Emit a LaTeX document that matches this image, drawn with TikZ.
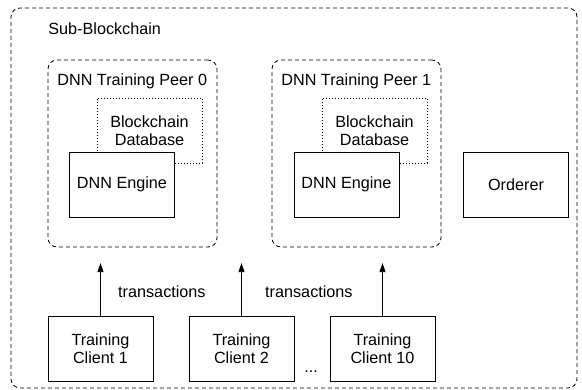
\documentclass[tikz,border=0pt]{standalone}
\usepackage{fontspec}
\setmainfont{Liberation Sans}
\usetikzlibrary{arrows.meta,positioning}

\begin{document}
\begin{tikzpicture}[x=1pt,y=-1pt,node distance=141pt,on grid,line width=0.8pt,
    font=\fontsize{16.2}{18}\selectfont,
    group/.style={draw,dash pattern=on 4pt off 3pt,rounded corners=9pt,inner sep=0pt},
    ledger/.style={draw,dash pattern=on 1pt off 2pt,align=center,minimum width=105pt,minimum height=65pt,inner sep=0pt},
    block/.style={draw,fill=white,align=center,minimum width=105pt,minimum height=65pt,inner sep=0pt},
    title/.style={anchor=base west,inner sep=0pt}]
    \useasboundingbox (0,0) rectangle (582,390);

    \node[group,minimum width=566pt,minimum height=380pt] (chain) at (294,198) {};
    \node[title] (chain_t) at (48,35) {Sub-Blockchain};

    \node[group,minimum width=169pt,minimum height=187pt] (peer_0) at (132.5,153.5) {};
    \node[group,minimum width=169pt,minimum height=187pt] [right=224pt of peer_0] (peer_1) {};
    \node[title] (peer_0_t) at (57,86) {DNN Training Peer 0};
    \node[title] (peer_1_t) at (281,86) {DNN Training Peer 1};

    \node[ledger] (db_0) at (149.5,130.5) {Blockchain\\Database};
    \node[ledger] [right=225pt of db_0] (db_1) {Blockchain\\Database};
    \node[block] (dnn_0) at (122,184.5) {DNN Engine};
    \node[block] [right=224.5pt of dnn_0] (dnn_1) {DNN Engine};
    \node[block] [right=169.5pt of dnn_1] (orderer) {Orderer};

    \node[block] (client_1) at (100.5,349) {Training\\Client 1};
    \node[block] [right=of client_1] (client_2) {Training\\Client 2};
    \node[block] [right=of client_2] (client_10) {Training\\Client 10};
    \node[title] (dots) at (304,373) {...};

    \coordinate[above=53pt of client_1.north] (in_1);
    \coordinate[above=53pt of client_2.north] (in_2);
    \coordinate[above=53pt of client_10.north] (in_10);

    \path[-{Triangle[length=9pt,width=6pt]}]
    (client_1) edge node[right,xshift=14pt,yshift=-2pt] (tx_1) {transactions} (in_1)
    (client_2) edge node[right,xshift=20pt,yshift=-2pt] (tx_2) {transactions} (in_2)
    (client_10) edge (in_10)
    ;
\end{tikzpicture}
\end{document}
